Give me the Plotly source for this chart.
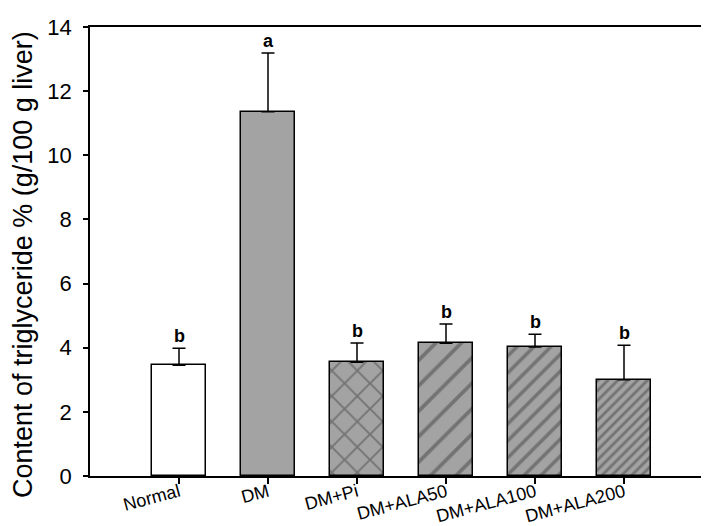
import plotly.graph_objects as go

groups = ["Normal", "DM", "DM+Pi", "DM+ALA50", "DM+ALA100", "DM+ALA200"]
means = [3.45, 11.36, 3.55, 4.14, 4.02, 3.00]
errors = [0.53, 1.83, 0.60, 0.60, 0.40, 1.08]
letters = ["b", "a", "b", "b", "b", "b"]
y_ticks = [0, 2, 4, 6, 8, 10, 12, 14]

fills = ["white", "#a3a3a3", "#a3a3a3", "#a3a3a3", "#a3a3a3", "#a3a3a3"]
shapes = ["", "", "x", "/", "/", "/"]
sizes = [10, 10, 18, 18, 12, 7]
solid = [0.1, 0.1, 0.2, 0.21, 0.29, 0.4]

xs = list(range(len(groups)))
fig = go.Figure()
fig.add_trace(go.Bar(
    x=xs, y=means, width=0.61,
    marker=dict(
        color=fills,
        line=dict(color="black", width=1.5),
        pattern=dict(shape=shapes, size=sizes, solidity=solid,
                     fgcolor="black", bgcolor=fills, fillmode="overlay"),
    ),
    error_y=dict(type="data", array=errors, arrayminus=[0]*len(errors),
                 symmetric=False, color="black", thickness=1.5, width=6.5),
    showlegend=False,
))

for x, m, e, l in zip(xs, means, errors, letters):
    fig.add_annotation(x=x, y=m + e, text="<b>%s</b>" % l, showarrow=False,
                       yanchor="bottom", yshift=0,
                       font=dict(family="Arial, Liberation Sans", size=18, color="black"))

fig.add_annotation(text="Content of triglyceride % (g/100 g liver)", textangle=-90,
                   xref="paper", yref="paper", x=0, y=0.47, xanchor="center", yanchor="middle",
                   xshift=-67, showarrow=False,
                   font=dict(family="Arial, Liberation Sans", size=27, color="black"))

fig.update_layout(
    width=709, height=526,
    margin=dict(l=82, r=2, t=19, b=58),
    plot_bgcolor="white", paper_bgcolor="white",
    font=dict(family="Arial, Liberation Sans", color="black"),
    bargap=0,
)
fig.update_xaxes(
    range=[-1, 6], tickvals=xs, ticktext=groups, tickangle=-15,
    ticks="outside", ticklen=6, tickwidth=1.5, tickcolor="black",
    showline=True, linecolor="black", linewidth=1.5, mirror=True,
    showgrid=False, zeroline=False, tickfont=dict(size=18),
    ticklabelstandoff=-9,
)
fig.update_yaxes(
    range=[0, 14], tickvals=y_ticks,
    ticks="outside", ticklen=5, tickwidth=1.5, tickcolor="black",
    showline=True, linecolor="black", linewidth=1.5, mirror=True,
    showgrid=False, zeroline=False, tickfont=dict(size=22),
    ticklabelstandoff=7,
)
fig.write_html("out.html")
